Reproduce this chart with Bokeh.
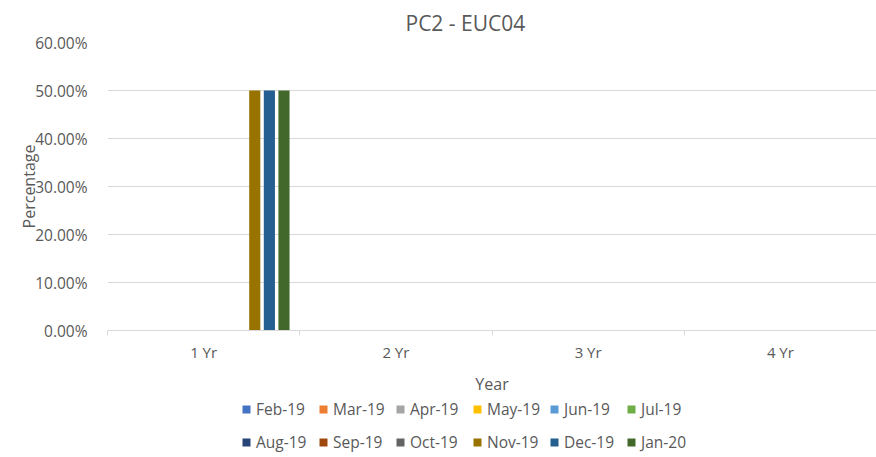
from bokeh.plotting import figure
from bokeh.layouts import column
from bokeh.models import (ColumnDataSource, Range1d, FixedTicker,
                          NumeralTickFormatter, Legend, LegendItem)
from bokeh.transform import dodge
from bokeh.embed import file_html
from bokeh.resources import INLINE

# ---- data ----
categories = ["1 Yr", "2 Yr", "3 Yr", "4 Yr"]
series_names = ["Feb-19", "Mar-19", "Apr-19", "May-19", "Jun-19", "Jul-19",
                "Aug-19", "Sep-19", "Oct-19", "Nov-19", "Dec-19", "Jan-20"]
feb19 = [0.0, 0.0, 0.0, 0.0]
mar19 = [0.0, 0.0, 0.0, 0.0]
apr19 = [0.0, 0.0, 0.0, 0.0]
may19 = [0.0, 0.0, 0.0, 0.0]
jun19 = [0.0, 0.0, 0.0, 0.0]
jul19 = [0.0, 0.0, 0.0, 0.0]
aug19 = [0.0, 0.0, 0.0, 0.0]
sep19 = [0.0, 0.0, 0.0, 0.0]
oct19 = [0.0, 0.0, 0.0, 0.0]
nov19 = [0.5, 0.0, 0.0, 0.0]
dec19 = [0.5, 0.0, 0.0, 0.0]
jan20 = [0.5, 0.0, 0.0, 0.0]
y_ticks = [0.0, 0.1, 0.2, 0.3, 0.4, 0.5, 0.6]

colors = ["#4472C4", "#ED7D31", "#A5A5A5", "#FFC000", "#5B9BD5", "#70AD47",
          "#264478", "#9E480E", "#636363", "#997300", "#255E91", "#43682B"]
all_values = [feb19, mar19, apr19, may19, jun19, jul19,
              aug19, sep19, oct19, nov19, dec19, jan20]

# category slots: one unit per category on a numeric axis
centers = [i + 0.5 for i in range(len(categories))]
bounds = [float(i) for i in range(len(categories) + 1)]

data = {"x": centers}
for name, vals in zip(series_names, all_values):
    data[name] = vals
source = ColumnDataSource(data)

FONT = "Open Sans"
GREY = "#595959"

p = figure(x_range=Range1d(0, len(categories)), y_range=Range1d(0, 0.6),
           width=876, height=398, output_backend="svg", toolbar_location=None,
           min_border_left=107, min_border_right=0, min_border_top=42, min_border_bottom=68)
p.outline_line_color = None
p.background_fill_color = "white"

p.title.text = "PC2 - EUC04"
p.title.text_font = FONT
p.title.text_font_size = "21px"
p.title.text_font_style = "normal"
p.title.text_color = GREY
p.title.align = "left"
p.title.offset = 298
p.title.standoff = 8
p.title.vertical_align = "top"
p.title.text_baseline = "top"

pitch = 0.076
bw = 0.058
renderers = []
for i, (name, col) in enumerate(zip(series_names, colors)):
    off = (i - 5.5) * pitch
    r = p.vbar(x=dodge("x", off), top=name, width=bw, source=source,
               fill_color=col, line_color=None)
    renderers.append(r)

# y axis
yax = p.yaxis[0]
yax.ticker = FixedTicker(ticks=y_ticks)
yax.formatter = NumeralTickFormatter(format="0.00%")
yax.axis_line_color = None
yax.major_tick_line_color = None
yax.minor_tick_line_color = None
yax.major_tick_out = 0
yax.major_label_standoff = 20
yax.major_label_text_font = FONT
yax.major_label_text_font_size = "15.5px"
yax.major_label_text_color = GREY
yax.axis_label = "Percentage"
yax.axis_label_text_font = FONT
yax.axis_label_text_font_size = "16px"
yax.axis_label_text_font_style = "normal"
yax.axis_label_text_color = GREY
yax.axis_label_standoff = -8

p.ygrid.grid_line_color = "#D9D9D9"
p.xgrid.grid_line_color = None

# x axis: labels at category centres, small ticks at category boundaries
xax = p.xaxis[0]
xax.ticker = FixedTicker(ticks=centers, minor_ticks=bounds)
xax.major_label_overrides = {c: lab for c, lab in zip(centers, categories)}
xax.axis_line_color = "#D9D9D9"
xax.major_tick_line_color = None
xax.major_tick_out = 0
xax.major_tick_in = 0
xax.minor_tick_line_color = "#D9D9D9"
xax.minor_tick_out = 5
xax.minor_tick_in = 0
xax.major_label_standoff = 6
xax.major_label_text_font = FONT
xax.major_label_text_font_size = "15px"
xax.major_label_text_color = GREY
xax.axis_label = "Year"
xax.axis_label_text_font = FONT
xax.axis_label_text_font_size = "16px"
xax.axis_label_text_font_style = "normal"
xax.axis_label_text_color = GREY
xax.axis_label_standoff = 8

# legend strip below the chart (same series, hidden renderers only feed the legend)
lp = figure(x_range=Range1d(0, len(categories)), y_range=Range1d(0, 0.6),
            width=876, height=59, output_backend="svg", toolbar_location=None,
            min_border_left=0, min_border_right=0, min_border_top=0, min_border_bottom=0,
            x_axis_location=None, y_axis_location=None)
lp.outline_line_color = None
lp.xgrid.grid_line_color = None
lp.ygrid.grid_line_color = None
lp_renderers = []
for i, (name, col) in enumerate(zip(series_names, colors)):
    r = lp.vbar(x=dodge("x", (i - 5.5) * pitch), top=name, width=bw, source=source,
                fill_color=col, line_color=None, visible=False)
    lp_renderers.append(r)


def make_legend(names, rends, loc):
    lg = Legend(items=[LegendItem(label=n, renderers=[r]) for n, r in zip(names, rends)],
                orientation="horizontal", location=loc)
    lg.border_line_color = None
    lg.background_fill_alpha = 0
    lg.inactive_fill_alpha = 0
    lg.padding = 0
    lg.margin = 0
    lg.glyph_width = 10
    lg.glyph_height = 10
    lg.label_standoff = 5
    lg.label_width = 56
    lg.spacing = 6
    lg.label_height = 20
    lg.label_text_font = FONT
    lg.label_text_font_size = "15.5px"
    lg.label_text_color = GREY
    return lg


half = len(series_names) // 2
lp.add_layout(make_legend(series_names[:half], lp_renderers[:half], (134, 37)), "center")
lp.add_layout(make_legend(series_names[half:], lp_renderers[half:], (134, 4)), "center")

layout = column(p, lp, spacing=0)
open("out.html", "w").write(file_html(layout, INLINE))
